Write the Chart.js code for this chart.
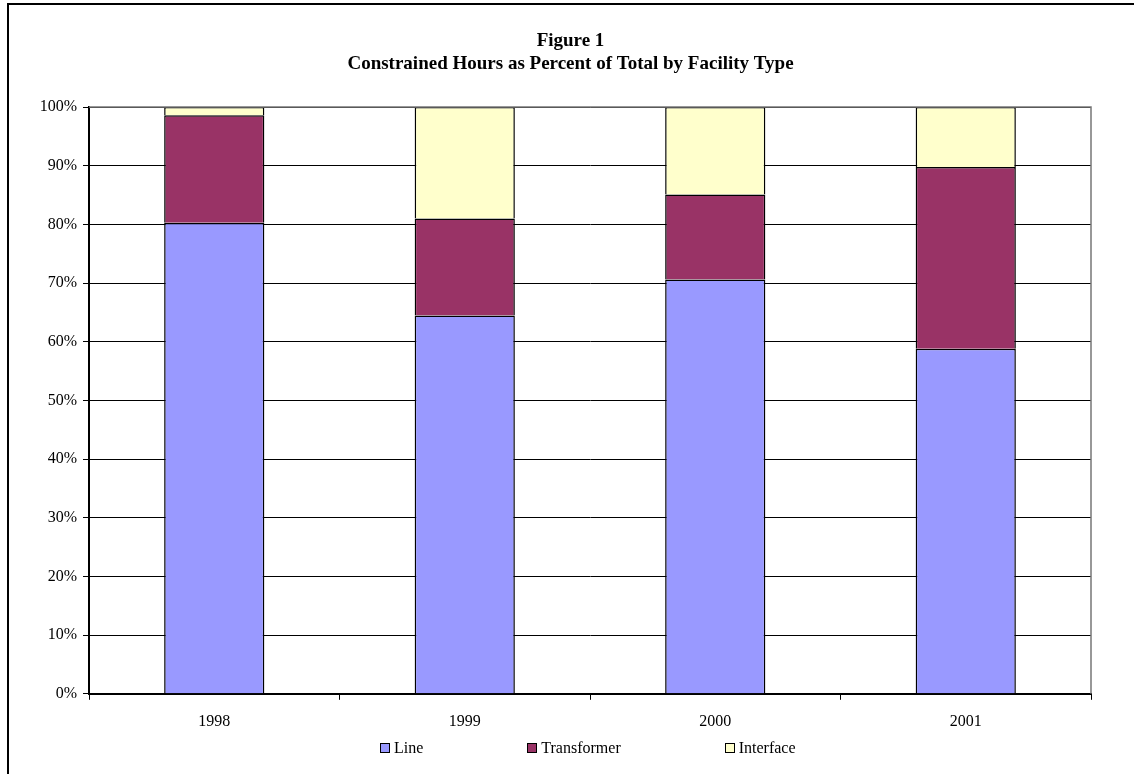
<!DOCTYPE html>
<html>
<head>
<meta charset="utf-8">
<script src="https://cdn.jsdelivr.net/npm/chart.js@4/dist/chart.umd.min.js"></script>
<style>
  html, body { margin: 0; padding: 0; background: #fff; }
  #wrap { position: relative; width: 1134px; height: 774px; overflow: hidden; }
  #legend {
    position: absolute;
    left: 380px;
    top: 739px;
    display: flex;
    gap: 104px;
    font-family: 'Liberation Serif', 'Times New Roman', serif;
    font-size: 16px;
    color: #000;
  }
  #legend .item { display: flex; align-items: center; }
  #legend .box {
    width: 8px;
    height: 8px;
    border: 1.5px solid #000;
    margin-right: 4px;
  }
</style>
</head>
<body>
<div id="wrap">
  <canvas id="chart" width="1134" height="774"></canvas>
  <div id="legend"></div>
</div>
<script>
// datos del grafico
const years = ["1998", "1999", "2000", "2001"];
const lineHours = [80.3, 64.5, 70.6, 58.8];
const transformerHours = [18.3, 16.5, 14.5, 31.0];
const interfaceHours = [1.4, 19.0, 14.9, 10.2];
const percentTicks = [0, 10, 20, 30, 40, 50, 60, 70, 80, 90, 100];

const serif = "'Liberation Serif', 'Times New Roman', serif";

// marco exterior y borde del area de trazado
const framePlugin = {
  id: "frame",
  afterLayout(chart) {
    // centra el titulo sobre el marco y no sobre el canvas
    if (chart.titleBlock) chart.titleBlock.left = 50;
  },
  beforeDraw(chart) {
    const ctx = chart.ctx;
    ctx.save();
    ctx.strokeStyle = "#000";
    ctx.lineWidth = 2;
    ctx.beginPath();
    ctx.moveTo(8, 774);
    ctx.lineTo(8, 4);
    ctx.lineTo(1134, 4);
    ctx.stroke();
    ctx.restore();
  },
  afterDraw(chart) {
    const a = chart.chartArea;
    const ctx = chart.ctx;
    ctx.save();
    ctx.strokeStyle = "#777";
    ctx.lineWidth = 1.5;
    ctx.beginPath();
    ctx.moveTo(a.left, a.top);
    ctx.lineTo(a.right, a.top);
    ctx.lineTo(a.right, a.bottom);
    ctx.stroke();
    ctx.restore();
  },
};

const chart = new Chart(document.getElementById("chart"), {
  type: "bar",
  data: {
    labels: years,
    datasets: [
      {
        label: "Line",
        data: lineHours,
        backgroundColor: "#9999FF",
        borderColor: "#000",
        borderWidth: 1.5,
      },
      {
        label: "Transformer",
        data: transformerHours,
        backgroundColor: "#993366",
        borderColor: "#000",
        borderWidth: 1.5,
      },
      {
        label: "Interface",
        data: interfaceHours,
        backgroundColor: "#FFFFCC",
        borderColor: "#000",
        borderWidth: 1.5,
      },
    ],
  },
  options: {
    responsive: false,
    animation: false,
    devicePixelRatio: 1,
    barPercentage: 0.4,
    categoryPercentage: 1,
    layout: { padding: { left: 0, right: 43, top: 0, bottom: 31 } },
    plugins: {
      tooltip: { enabled: false },
      legend: { display: false },
      title: {
        display: true,
        text: ["Figure 1", "Constrained Hours as Percent of Total by Facility Type"],
        color: "#000",
        font: { family: serif, size: 19, weight: "bold", lineHeight: 1.2 },
        padding: { top: 30, bottom: 31.5 },
      },
    },
    scales: {
      x: {
        stacked: true,
        grid: {
          offset: true,
          drawOnChartArea: false,
          drawTicks: true,
          tickLength: 6,
          color: "#000",
        },
        border: { color: "#000", width: 2 },
        ticks: {
          color: "#000",
          font: { family: serif, size: 16 },
          padding: 12,
        },
      },
      y: {
        stacked: true,
        min: 0,
        max: 100,
        afterFit(scale) {
          scale.width = 89;
        },
        afterBuildTicks(scale) {
          scale.ticks = percentTicks.map((v) => ({ value: v }));
        },
        grid: { color: "#000", lineWidth: 1, tickLength: 6 },
        border: { color: "#000", width: 2 },
        ticks: {
          color: "#000",
          font: { family: serif, size: 16 },
          padding: 6,
          callback: (v) => v + "%",
        },
      },
    },
  },
  plugins: [framePlugin],
});

// leyenda en HTML a partir de los datasets
const legendEl = document.getElementById("legend");
chart.data.datasets.forEach((ds) => {
  const item = document.createElement("div");
  item.className = "item";
  const box = document.createElement("span");
  box.className = "box";
  box.style.background = ds.backgroundColor;
  const text = document.createElement("span");
  text.textContent = ds.label;
  item.appendChild(box);
  item.appendChild(text);
  legendEl.appendChild(item);
});
</script>
</body>
</html>
